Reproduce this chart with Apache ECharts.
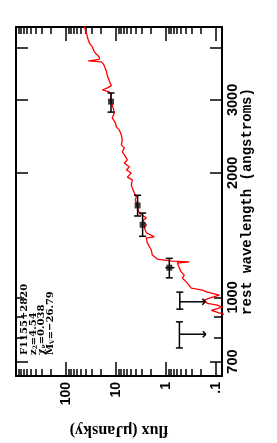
<!DOCTYPE html>
<html><head><meta charset="utf-8">
<script src="https://cdn.jsdelivr.net/npm/echarts@6/dist/echarts.min.js"></script>
<style>html,body{margin:0;padding:0;background:#fff;}#c{width:277px;height:443px;}</style>
</head><body><div id="c"></div>
<script>
// ---- data ----
const specWave = [4620,4503,4354,4257,4118,4030,3918,3873,3809,3758,3727,3706,3665,3624,3565,3525,3428,3390,3333,3243,3208,3170,3135,3084,3000,2917,2790,2714,2640,2582,2539,2469,2401,2336,2297,2246,2209,2149,2113,2066,2031,1998,1953,1923,1869,1839,1789,1749,1720,1654,1600,1583,1556,1531,1498,1473,1433,1401,1393,1354,1302,1266,1238,1224,1218,1211,1177,1151,1132,1114,1083,1053,1042,1030,1013,996,985,968,958,947,931,911,905];
const specFlux = [45,43.1,39,37.5,34.2,29.8,27.2,24.8,21.6,21.6,35.8,19.7,17.9,17.1,16.4,15.6,14.9,14.3,13.6,12.4,14.9,18.8,13.6,12.4,13.0,11.9,10.8,11.9,10.3,9.86,8.59,7.83,7.48,7.83,6.82,7.48,6.82,5.94,6.82,5.42,6.22,4.94,5.94,4.72,4.94,4.72,4.31,3.93,4.11,3.75,3.42,3.12,2.48,2.98,2.48,2.72,2.48,1.71,2.48,2.37,1.97,1.88,1.49,0.748,0.342,0.594,0.542,0.494,0.431,0.472,0.375,0.312,0.188,0.149,0.086,0.136,0.171,0.149,0.094,0.075,0.124,0.072,0.03];

const photWave   = [2972, 1668, 1498, 1180];
const photFlux   = [12.6, 3.70, 2.94, 0.86];
const photWaveLo = [2803, 1573, 1405, 1115];
const photWaveHi = [3118, 1765, 1599, 1243];
const photFluxLo = [12.0, 3.55, 2.82, 0.68];
const photFluxHi = [13.2, 3.85, 3.06, 1.03];

const limWave    = [976, 815];
const limFlux    = [0.53, 0.54];
const limWaveLo  = [937, 755];
const limWaveHi  = [1030, 873];
const limArrowTo = [0.164, 0.16];

const fluxLabels     = [0.1, 1, 10, 100];
const fluxMajorTicks = [0.1, 1, 10, 100];
const fluxMinorTicks = [0.2,0.3,0.4,0.5,0.6,0.7,0.8,0.9,2,3,4,5,6,7,8,9,20,30,40,50,60,70,80,90,200,300,400,500,600,700,800,900];
const waveLabels     = [700, 1000, 2000, 3000];
const waveMajorTicks = [700, 2000, 3000, 4000];
const waveMinorTicks = [800, 900, 1000];

const annotLines = ['{t|F1155+2820}', '{t|z}{s|2}{t|=4.54}', '{t|χ}{s|ν}{t|=0.038}', '{t|M}{s|V}{t|=−26.79}'];

// ---- chart ----
const chart = echarts.init(document.getElementById('c'), null, {renderer:'canvas'});
const FLUX_MIN = 0.076, FLUX_MAX = 1000, WAVE_MIN = 646, WAVE_MAX = 4500;
const numFont = '"Liberation Sans", Arial, sans-serif';
const serif = '"Liberation Serif", "Times New Roman", serif';
const wideSerif = '"DejaVu Serif", serif';
const mono = '"Liberation Mono", "DejaVu Sans Mono", monospace';

function fmtFlux(v){ const s = String(+v.toPrecision(6)); return s.replace(/^0\./, '.'); }

function xAx(pos, ticks, len, labels, extra){
  return Object.assign({
    type:'log', min:FLUX_MIN, max:FLUX_MAX, inverse:true, position:pos,
    axisLine:{show: len > 10, onZero:false, lineStyle:{color:'#000', width:2}},
    axisTick:{show:true, inside:true, length:len, customValues:ticks, lineStyle:{color:'#000', width:1.5}},
    axisLabel: labels ? {show:true, customValues:labels, rotate:90, margin:6, color:'#000',
      fontFamily:numFont, fontWeight:'bold', fontSize:14, formatter: fmtFlux} : {show:false},
    splitLine:{show:false}, minorTick:{show:false}
  }, extra || {});
}
function yAx(pos, ticks, len, labels, extra){
  return Object.assign({
    type:'log', min:WAVE_MIN, max:WAVE_MAX, position:pos,
    axisLine:{show: len > 10, onZero:false, lineStyle:{color:'#000', width:2}},
    axisTick:{show:true, inside:true, length:len, customValues:ticks, lineStyle:{color:'#000', width:1.5}},
    axisLabel: labels ? {show:true, customValues:labels, rotate:90, margin:3, color:'#000',
      fontFamily:numFont, fontWeight:'bold', fontSize:14.5, formatter: v => String(Math.round(v))} : {show:false},
    splitLine:{show:false}, minorTick:{show:false}
  }, extra || {});
}

const photData = photWave.map((w,i) => [photFlux[i], w, photWaveLo[i], photWaveHi[i], photFluxLo[i], photFluxHi[i]]);
const limData = limWave.map((w,i) => [limFlux[i], w, limWaveLo[i], limWaveHi[i], limArrowTo[i]]);
const lineStyleK = {stroke:'#000', lineWidth:1.5, fill:null};
function seg(x1,y1,x2,y2){ return {type:'line', shape:{x1,y1,x2,y2}, style:lineStyleK}; }

const option = {
  animation:false,
  backgroundColor:'#fff',
  grid:{left:16, top:27, width:206, height:349, show:false},
  xAxis:[
    xAx('bottom', fluxMajorTicks, 14, fluxLabels, {name:'flux (μJansky)', nameLocation:'middle', nameRotate:180, nameGap:46,
      nameMoveOverlap:false,
      nameTextStyle:{color:'#000', fontFamily:serif, fontWeight:'bold', fontSize:16}}),
    xAx('bottom', fluxMinorTicks, 7, null),
    xAx('top', fluxMajorTicks, 14, null),
    xAx('top', fluxMinorTicks, 7, null)
  ],
  yAxis:[
    yAx('right', waveMajorTicks, 12, waveLabels, {name:'rest wavelength (angstroms)', nameLocation:'middle', nameRotate:90, nameGap:18,
      nameMoveOverlap:false,
      nameTextStyle:{color:'#000', fontFamily:mono, fontWeight:'bold', fontSize:14}}),
    yAx('right', waveMinorTicks, 8, null),
    yAx('left', waveMajorTicks, 12, null),
    yAx('left', waveMinorTicks, 8, null)
  ],
  series:[
    {type:'line', xAxisIndex:0, yAxisIndex:0, data: specWave.map((w,i)=>[specFlux[i], w]),
      showSymbol:false, symbol:'none', clip:true, lineStyle:{color:'#ff0000', width:1.3}, z:2},
    {type:'custom', xAxisIndex:0, yAxisIndex:0, data: photData, encode:{x:0, y:1}, z:3,
      renderItem:function(params, api){
        const f = api.value(0), w = api.value(1);
        const t = api.coord([f, api.value(3)]), b = api.coord([f, api.value(2)]);
        const l = api.coord([api.value(5), w]), r = api.coord([api.value(4), w]);
        const c = 3.5;
        return {type:'group', children:[
          seg(t[0], t[1], b[0], b[1]), seg(t[0]-c, t[1], t[0]+c, t[1]), seg(b[0]-c, b[1], b[0]+c, b[1]),
          seg(l[0], l[1], r[0], r[1])
        ]};
      }},
    {type:'scatter', xAxisIndex:0, yAxisIndex:0, data: photWave.map((w,i)=>[photFlux[i], w]),
      symbol:'rect', symbolSize:6, itemStyle:{color:'#111'}, z:4},
    {type:'custom', xAxisIndex:0, yAxisIndex:0, data: limData, encode:{x:0, y:1}, z:3,
      renderItem:function(params, api){
        const f = api.value(0), w = api.value(1);
        const t = api.coord([f, api.value(3)]), b = api.coord([f, api.value(2)]);
        const m = api.coord([f, w]), e = api.coord([api.value(4), w]);
        const c = 3.5, a = 3;
        return {type:'group', children:[
          seg(t[0], t[1], b[0], b[1]), seg(t[0]-c, t[1], t[0]+c, t[1]), seg(b[0]-c, b[1], b[0]+c, b[1]),
          seg(m[0], m[1], e[0], e[1]), seg(e[0]-a, e[1]-a, e[0], e[1]), seg(e[0]-a, e[1]+a, e[0], e[1])
        ]};
      }}
  ],
  graphic: annotLines.map((txt, i) => ({
    type:'text', x: 24.5 + i*8.6, y: 355, rotation: Math.PI/2, z:10,
    style:{text: txt, align:'left', verticalAlign:'middle', fill:'#000',
      font: 'bold 10px ' + wideSerif,
      rich:{ t:{fontFamily:wideSerif, fontWeight:'bold', fontSize:10, lineHeight:10, fill:'#000'},
             s:{fontFamily:wideSerif, fontWeight:'bold', fontSize:6, lineHeight:10, fill:'#000', padding:[4,0,0,0]} }}
  }))
};
chart.setOption(option);
</script></body></html>
